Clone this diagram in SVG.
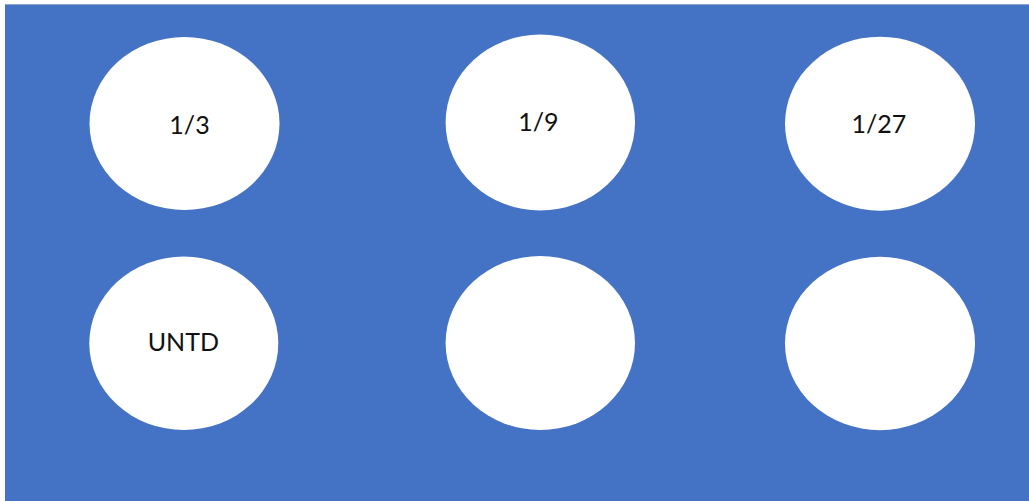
<svg xmlns="http://www.w3.org/2000/svg" width="1029" height="501" viewBox="0 0 1029 501">
<style>
.node ellipse{fill:#ffffff;stroke:none}
.node text{font-family:Lato,"Open Sans","Liberation Sans",sans-serif;font-size:25px;fill:#111111;text-anchor:middle}
</style>
<rect x="0" y="0" width="1029" height="501" fill="#ffffff"/>
<rect id="background" x="5" y="4.5" width="1024" height="496.5" fill="#4472C4"/>
<line x1="5" y1="4.5" x2="1029" y2="4.5" stroke="#8da4c9" stroke-width="1"/>
<g id="connectors"></g>
<g id="n1" class="node"><ellipse cx="184.5" cy="123.5" rx="95" ry="86.5"/><text x="189.5" y="134">1/3</text></g>
<g id="n2" class="node"><ellipse cx="540.3" cy="122.5" rx="94.7" ry="88"/><text x="538.3" y="131">1/9</text></g>
<g id="n3" class="node"><ellipse cx="880" cy="123.7" rx="95" ry="87"/><text x="878.8" y="132.5">1/27</text></g>
<g id="n4" class="node"><ellipse cx="183.8" cy="343.3" rx="94.5" ry="86.7"/><text x="183.3" y="350.7">UNTD</text></g>
<g id="n5" class="node"><ellipse cx="540.3" cy="343" rx="94.7" ry="87"/></g>
<g id="n6" class="node"><ellipse cx="880" cy="343.5" rx="95" ry="86.7"/></g>
</svg>
